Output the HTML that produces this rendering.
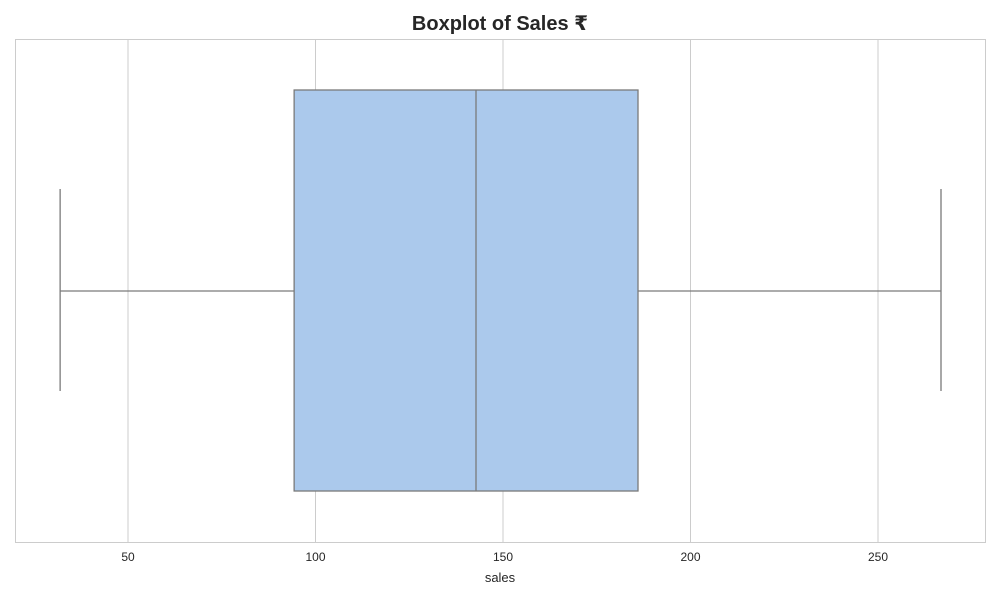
<!DOCTYPE html>
<html><head><meta charset="utf-8"><style>
body{margin:0;background:#fff;font-family:"Liberation Sans","DejaVu Sans",sans-serif;}
</style></head><body>
<svg id="chart" width="1000" height="600" xmlns="http://www.w3.org/2000/svg">
<rect width="1000" height="600" fill="#fff"/>
<text x="500" y="30" text-anchor="middle" font-size="20" font-weight="bold" fill="#262626" font-family="Liberation Sans, DejaVu Sans, sans-serif">Boxplot of Sales ₹</text>
<g id="grid"></g>
<g id="ticks"></g>
<g id="box"></g>
<rect x="15.5" y="39.5" width="970" height="503" fill="none" stroke="#cccccc" stroke-width="1"/>
<text x="500" y="582" text-anchor="middle" font-size="13" fill="#262626">sales</text>
</svg>
<script>
const tickValues=[50,100,150,200,250];
const tickLabels=["50","100","150","200","250"];
const whiskerLow=[31.9];
const q1=[94.3];
const median=[142.8];
const q3=[186];
const whiskerHigh=[266.8];
const NS="http://www.w3.org/2000/svg";
function x(v){return 128+(v-50)*3.75;}
const yTop=90,yBot=491,yMid=291,capTop=189,capBot=391;
function mk(tag,attrs,parent){const e=document.createElementNS(NS,tag);for(const k in attrs)e.setAttribute(k,attrs[k]);document.getElementById(parent).appendChild(e);return e;}
tickValues.forEach((v,i)=>{
 const g=mk('line',{x1:x(v),x2:x(v),y1:40,y2:542,stroke:'#cccccc','stroke-width':1},'grid');
 
 
 const t=mk('text',{x:x(v),y:561,'text-anchor':'middle','font-size':12,fill:'#262626'},'ticks');
 t.textContent=tickLabels[i];
 
 
});
const c='#7a7a7a';
let e;
e=mk('line',{x1:x(whiskerLow[0]),x2:x(q1[0]),y1:yMid,y2:yMid,stroke:c,'stroke-width':1.3},'box');


e=mk('line',{x1:x(q3[0]),x2:x(whiskerHigh[0]),y1:yMid,y2:yMid,stroke:c,'stroke-width':1.3},'box');


e=mk('line',{x1:x(whiskerLow[0]),x2:x(whiskerLow[0]),y1:capTop,y2:capBot,stroke:c,'stroke-width':1.3},'box');


e=mk('line',{x1:x(whiskerHigh[0]),x2:x(whiskerHigh[0]),y1:capTop,y2:capBot,stroke:c,'stroke-width':1.3},'box');


e=mk('rect',{x:x(q1[0]),y:yTop,width:x(q3[0])-x(q1[0]),height:yBot-yTop,fill:'#abc9ec',stroke:c,'stroke-width':1.3},'box');


e=mk('line',{x1:x(median[0]),x2:x(median[0]),y1:yTop,y2:yBot,stroke:c,'stroke-width':1.3},'box');


</script>
</body></html>
